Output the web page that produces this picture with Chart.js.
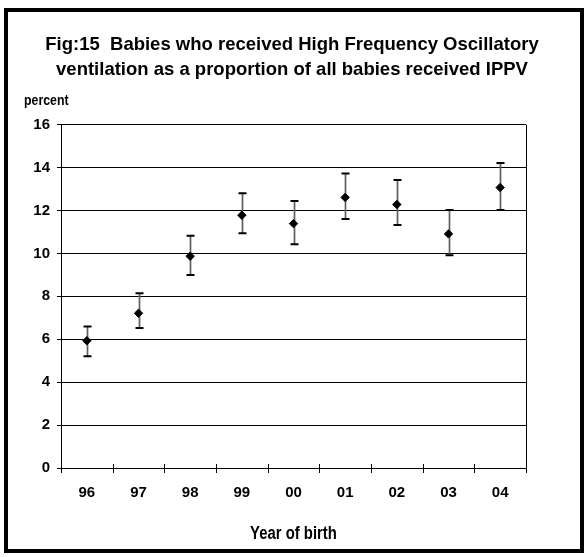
<!DOCTYPE html>
<html>
<head>
<meta charset="utf-8">
<script src="https://cdn.jsdelivr.net/npm/chart.js@4/dist/chart.umd.min.js"></script>
<style>
html,body{margin:0;padding:0;background:#fff;}
#wrap{width:584px;height:557px;}
</style>
</head>
<body>
<div id="wrap"><canvas id="c" width="584" height="557"></canvas></div>
<script>
// ---- data ----
const years = ['96', '97', '98', '99', '00', '01', '02', '03', '04'];
const percentValues = [5.93, 7.21, 9.87, 11.78, 11.39, 12.61, 12.28, 10.91, 13.07];
const lowerCI = [5.21, 6.52, 9.00, 10.94, 10.43, 11.61, 11.33, 9.92, 12.02];
const upperCI = [6.60, 8.14, 10.82, 12.81, 12.44, 13.73, 13.42, 12.02, 14.21];
const yMin = 0, yMax = 16, yStep = 2;
const titleLines = [
  'Fig:15  Babies who received High Frequency Oscillatory',
  'ventilation as a proportion of all babies received IPPV'
];
const yAxisLabel = 'percent';
const xAxisLabel = 'Year of birth';

const REG = '"Liberation Sans", Arial, sans-serif';

function condensedText(ctx, text, x, y, size, sx, align) {
  ctx.save();
  ctx.font = 'bold ' + size + 'px ' + REG;
  ctx.fillStyle = '#000';
  ctx.textAlign = align;
  ctx.textBaseline = 'alphabetic';
  ctx.translate(x, y);
  ctx.scale(sx, 1);
  ctx.fillText(text, 0, 0);
  ctx.restore();
}

const decorPlugin = {
  id: 'decor',
  beforeDatasetsDraw(chart) {
    const ctx = chart.ctx;
    const xs = chart.scales.x, ys = chart.scales.y;
    ctx.save();
    for (let i = 0; i < years.length; i++) {
      const x = Math.round(xs.getPixelForValue(i)) + 0.5;
      const yt = ys.getPixelForValue(upperCI[i]);
      const yb = ys.getPixelForValue(lowerCI[i]);
      ctx.strokeStyle = '#5e5e5e';
      ctx.lineWidth = 1.7;
      ctx.beginPath(); ctx.moveTo(x, yt); ctx.lineTo(x, yb); ctx.stroke();
      ctx.strokeStyle = '#000';
      ctx.lineWidth = 2;
      ctx.beginPath();
      ctx.moveTo(x - 4, yt); ctx.lineTo(x + 4, yt);
      ctx.moveTo(x - 4, yb); ctx.lineTo(x + 4, yb);
      ctx.stroke();
    }
    ctx.restore();
  },
  afterDraw(chart) {
    const ctx = chart.ctx;
    const a = chart.chartArea;
    const xs = chart.scales.x;
    ctx.save();
    // right frame line of plot
    ctx.strokeStyle = '#000';
    ctx.lineWidth = 1;
    const rx = Math.round(a.right) + 0.5;
    ctx.beginPath(); ctx.moveTo(rx, a.top); ctx.lineTo(rx, a.bottom + 5); ctx.stroke();
    // x tick marks at category boundaries, crossing the axis
    const step = xs.getPixelForValue(1) - xs.getPixelForValue(0);
    for (let i = 0; i < years.length; i++) {
      const px = Math.round(xs.getPixelForValue(i) - step / 2) + 0.5;
      ctx.beginPath(); ctx.moveTo(px, a.bottom - 4); ctx.lineTo(px, a.bottom + 5); ctx.stroke();
    }
    // axis labels (narrow, tall bold type as in the original)
    condensedText(ctx, yAxisLabel, 24, 105, 14, 0.88, 'left');
    condensedText(ctx, xAxisLabel, (a.left + a.right) / 2, 539, 17.5, 0.85, 'center');
    // outer frame
    ctx.lineWidth = 4;
    ctx.strokeStyle = '#000';
    ctx.strokeRect(6, 10, 576, 541);
    ctx.restore();
  }
};

new Chart(document.getElementById('c'), {
  type: 'line',
  data: {
    labels: years,
    datasets: [{
      data: percentValues,
      showLine: false,
      pointStyle: 'rectRot',
      pointRadius: 4.2,
      pointHoverRadius: 4.2,
      pointBackgroundColor: '#000',
      pointBorderColor: '#000',
      pointBorderWidth: 1
    }]
  },
  options: {
    responsive: false,
    animation: false,
    devicePixelRatio: 1,
    layout: { padding: { left: 0, right: 0, top: 0, bottom: 0 } },
    plugins: {
      legend: { display: false },
      tooltip: { enabled: false },
      title: {
        display: true,
        text: titleLines,
        color: '#000',
        font: { family: REG, size: 18.5, weight: 'bold', lineHeight: 1.37 },
        padding: { top: 32, bottom: 42 }
      }
    },
    scales: {
      x: {
        type: 'category',
        offset: true,
        grid: { display: true, drawOnChartArea: false, tickLength: 5, tickColor: 'rgba(0,0,0,0)', offset: true },
        border: { display: true, color: '#000', width: 1 },
        ticks: { color: '#000', font: { family: REG, size: 15, weight: 'bold' }, padding: 11, maxRotation: 0, autoSkip: false },
        title: { display: false },
        afterFit: s => { s.height = 89; }
      },
      y: {
        min: yMin, max: yMax,
        ticks: { stepSize: yStep, color: '#000', font: { family: REG, size: 15, weight: 'bold' }, padding: 7 },
        grid: { color: '#000', lineWidth: 1, tickLength: 4, tickColor: '#000' },
        border: { display: true, color: '#000', width: 1 },
        afterFit: s => { s.width = 61; }
      },
      y2: {
        position: 'right',
        display: true,
        grid: { display: false },
        border: { display: false },
        ticks: { display: false },
        afterFit: s => { s.width = 58; }
      }
    }
  },
  plugins: [decorPlugin]
});
</script>
</body>
</html>
